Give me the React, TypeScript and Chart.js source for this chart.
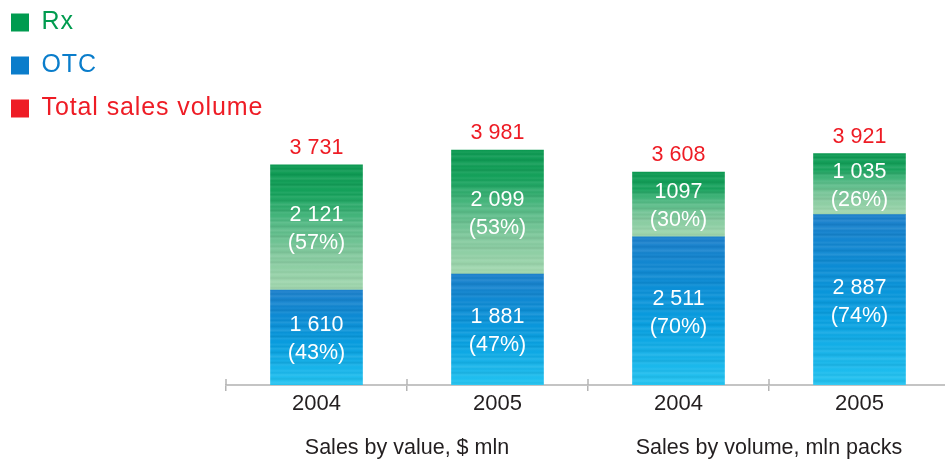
import { useEffect, useRef } from 'react';
import { Chart, registerables } from 'chart.js';

Chart.register(...registerables);

const categories = ['2004', '2005', '2004', '2005'];
const groupLabels = ['Sales by value, $ mln', 'Sales by volume, mln packs'];
const otcValues = [1610, 1881, 2511, 2887];
const rxValues = [2121, 2099, 1097, 1035];
const totalValues = [3731, 3981, 3608, 3921];
const otcText = ['1 610', '1 881', '2 511', '2 887'];
const rxText = ['2 121', '2 099', '1097', '1 035'];
const otcPct = ['(43%)', '(47%)', '(70%)', '(74%)'];
const rxPct = ['(57%)', '(53%)', '(30%)', '(26%)'];
const totalText = ['3 731', '3 981', '3 608', '3 921'];

const FONT = "'Liberation Sans', Arial, sans-serif";
const GREEN = '#009b4f';
const BLUE = '#0a7dcb';
const RED = '#ee1c25';

const rxStops: [number, number[]][] = [
  [0, [10, 152, 80]],
  [0.25, [22, 162, 92]],
  [0.45, [79, 184, 130]],
  [0.7, [128, 200, 156]],
  [1, [163, 216, 176]],
];
const otcStops: [number, number[]][] = [
  [0, [26, 127, 203]],
  [0.3, [11, 139, 212]],
  [0.6, [7, 159, 224]],
  [1, [34, 195, 241]],
];
// fixed streak texture (styling only)
const streak = [0, 0.06, -0.03, 0.09, 0.02, -0.05, 0.04, 0.1, -0.02, 0.03, -0.06, 0.07, 0.01];

function lerpStops(stops: [number, number[]][], t: number) {
  for (let k = 0; k < stops.length - 1; k++) {
    const [o0, c0] = stops[k];
    const [o1, c1] = stops[k + 1];
    if (t >= o0 && t <= o1) {
      const f = (t - o0) / (o1 - o0 || 1);
      return c0.map((v, j) => v + (c1[j] - v) * f);
    }
  }
  return stops[stops.length - 1][1];
}

function makeGradient(chart: any, top: number, bottom: number, stops: [number, number[]][]) {
  const g = chart.ctx.createLinearGradient(0, top, 0, bottom);
  const h = Math.max(1, bottom - top);
  const n = Math.max(2, Math.round(h / 2));
  for (let k = 0; k <= n; k++) {
    const t = k / n;
    const base = lerpStops(stops, t);
    const m = streak[k % streak.length];
    const c = base.map((v) => (m >= 0 ? v + (255 - v) * m : v * (1 + m)));
    g.addColorStop(t, `rgb(${c.map((v) => Math.round(v)).join(',')})`);
  }
  return g;
}

const barLabelsPlugin = {
  id: 'barLabels',
  afterLayout(chart: any) {
    const lg = chart.legend;
    if (lg) {
      lg.right = lg.left + 320;
      lg.width = 320;
      if (!lg.__spaced) {
        const orig = lg.draw;
        lg.draw = function (...args: any[]) {
          const c = this.ctx;
          const prev = c.letterSpacing;
          c.letterSpacing = '0.9px';
          orig.apply(this, args);
          c.letterSpacing = prev || '0px';
        };
        lg.__spaced = true;
      }
    }
  },
  afterDatasetsDraw(chart: any) {
    const ctx = chart.ctx;
    ctx.save();
    ctx.textAlign = 'center';
    ctx.textBaseline = 'middle';
    ctx.font = `21.5px ${FONT}`;
    const metaOtc = chart.getDatasetMeta(0);
    const metaRx = chart.getDatasetMeta(1);
    ctx.fillStyle = '#ffffff';
    metaOtc.data.forEach((el: any, i: number) => {
      const { x, y, base } = el.getProps(['x', 'y', 'base'], true);
      const cy = (y + base) / 2 + 2;
      ctx.fillText(otcText[i], x, cy - 14);
      ctx.fillText(otcPct[i], x, cy + 14);
    });
    metaRx.data.forEach((el: any, i: number) => {
      const { x, y, base } = el.getProps(['x', 'y', 'base'], true);
      const cy = (y + base) / 2 + 2;
      ctx.fillText(rxText[i], x, cy - 14);
      ctx.fillText(rxPct[i], x, cy + 14);
    });
    ctx.fillStyle = RED;
    metaRx.data.forEach((el: any, i: number) => {
      const { x } = el.getProps(['x'], true);
      const top = chart.scales.y.getPixelForValue(totalValues[i]);
      ctx.fillText(totalText[i], x, top - 17);
    });
    ctx.restore();
  },
};

const tickUpPlugin = {
  id: 'tickUp',
  afterDraw(chart: any) {
    const xs = chart.scales.x;
    const ctx = chart.ctx;
    const bottom = chart.chartArea.bottom;
    ctx.save();
    ctx.strokeStyle = '#b4b4b4';
    ctx.lineWidth = 1.5;
    for (let i = 0; i <= categories.length; i++) {
      const px = xs.getPixelForValue(i - 0.5);
      ctx.beginPath();
      ctx.moveTo(px, bottom - 6);
      ctx.lineTo(px, bottom);
      ctx.stroke();
    }
    ctx.restore();
  },
};

export default function App() {
  const ref = useRef<HTMLCanvasElement | null>(null);

  useEffect(() => {
    if (!ref.current) return;
    const chart = new Chart(ref.current, {
      type: 'bar',
      data: {
        labels: categories,
        datasets: [
          {
            label: 'OTC',
            data: otcValues,
            backgroundColor: (c: any) => {
              const chart = c.chart;
              if (c.type !== 'data' || !chart.chartArea) return BLUE;
              const y = chart.scales.y;
              const i = c.dataIndex;
              return makeGradient(chart, y.getPixelForValue(otcValues[i]), y.getPixelForValue(0), otcStops);
            },
            borderWidth: 0,
            barThickness: 92,
            stack: 's',
          },
          {
            label: 'Rx',
            data: rxValues,
            backgroundColor: (c: any) => {
              const chart = c.chart;
              if (c.type !== 'data' || !chart.chartArea) return GREEN;
              const y = chart.scales.y;
              const i = c.dataIndex;
              return makeGradient(
                chart,
                y.getPixelForValue(otcValues[i] + rxValues[i]),
                y.getPixelForValue(otcValues[i]),
                rxStops
              );
            },
            borderWidth: 0,
            barThickness: 92,
            stack: 's',
          },
        ],
      },
      options: {
        responsive: false,
        animation: false,
        devicePixelRatio: 1,
        layout: { padding: { left: -7, top: -8, right: 10, bottom: -19.6 } },
        plugins: {
          tooltip: { enabled: false },
          legend: {
            position: 'left',
            align: 'start',
            maxWidth: 233,
            onClick: () => {},
            labels: {
              boxWidth: 18,
              boxHeight: 18,
              padding: 18,
              font: { family: FONT, size: 25 },
              generateLabels: () => [
                { text: 'Rx', fillStyle: GREEN, strokeStyle: GREEN, lineWidth: 0, fontColor: GREEN, hidden: false, datasetIndex: 1 },
                { text: 'OTC', fillStyle: BLUE, strokeStyle: BLUE, lineWidth: 0, fontColor: BLUE, hidden: false, datasetIndex: 0 },
                { text: 'Total sales volume', fillStyle: RED, strokeStyle: RED, lineWidth: 0, fontColor: RED, hidden: false },
              ],
            },
          },
        },
        scales: {
          x: {
            stacked: true,
            offset: true,
            grid: {
              display: true,
              drawOnChartArea: false,
              drawTicks: true,
              tickLength: 6,
              color: '#b4b4b4',
              lineWidth: 1.5,
              offset: true,
            },
            border: { display: true, color: '#c4c4c4', width: 2 },
            ticks: { color: '#231f20', font: { family: FONT, size: 22 }, padding: 0 },
          },
          x2: {
            type: 'category',
            labels: groupLabels,
            position: 'bottom',
            offset: true,
            grid: { display: false, drawTicks: false },
            border: { display: false },
            ticks: { color: '#231f20', font: { family: FONT, size: 21.5 }, padding: 18.2 },
          },
          y: { stacked: true, display: false, min: 0, max: 6525 },
        },
      },
      plugins: [barLabelsPlugin, tickUpPlugin],
    } as any);
    return () => chart.destroy();
  }, []);

  return (
    <div
      style={{
        position: 'fixed',
        left: 0,
        top: 0,
        width: 945,
        height: 460,
        overflow: 'hidden',
        background: '#ffffff',
      }}
    >
      <canvas ref={ref} width={960} height={460} style={{ display: 'block' }} />
    </div>
  );
}
